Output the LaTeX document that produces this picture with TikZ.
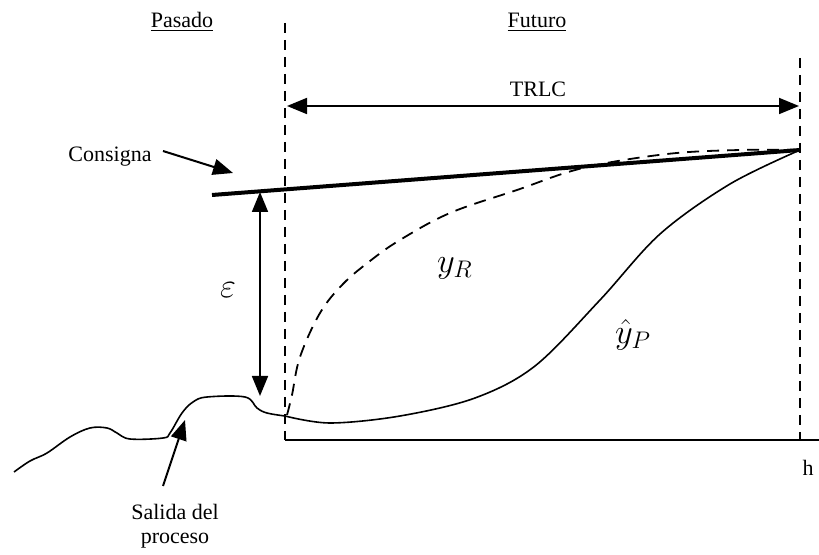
\documentclass[tikz,border=0pt]{standalone}
\usepackage{fontspec}
\setmainfont{Liberation Serif}
\usetikzlibrary{arrows.meta,positioning,calc}

\begin{document}
\begin{tikzpicture}[
    x=0.5pt, y=-0.5pt,
    >={Triangle[length=10pt,width=8pt]},
    font=\fontsize{11}{13}\selectfont,
    lbl/.style={inner sep=1pt},
    mlbl/.style={inner sep=1pt, font=\fontsize{17}{19}\selectfont},
    limit/.style={dash pattern=on 5pt off 3.5pt, line width=0.8pt},
    refcurve/.style={dash pattern=on 6pt off 4pt, line width=0.9pt},
    outcurve/.style={line width=0.8pt},
  ]

\useasboundingbox (0,0) rectangle (819,555);

% present / horizon limits
\coordinate (now top) at (285,23);
\coordinate (now) at (285,440);
\coordinate (hor top) at (800,58);
\coordinate (hor) at (800,440);
\coordinate (axis end) at (819,440);
\draw[limit] (now top) -- (now);
\draw[limit] (hor top) -- (hor);
\draw[line width=0.9pt] (now) -- (axis end);
\node[lbl] (h) at (808,468) {h};

% headings
\node[lbl] (past) at (182,22) {\underline{Pasado}};
\node[lbl] (fut) at (537,22) {\underline{Futuro}};

% horizon span
\coordinate (tr0) at (287,106);
\coordinate (tr1) at (799,106);
\draw[<->, line width=0.9pt] (tr0) -- (tr1);
\node[lbl] (trlc) at (538,89) {TRLC};

% set-point
\coordinate (c0) at (212,195);
\coordinate (c1) at (800,150);
\draw[line width=2pt] (c0) -- (c1);
\node[lbl] (cons) at (110,157) {Consigna};
\coordinate (cons tail) at (163,151);
\coordinate (cons tip) at (233,173);
\draw[->, line width=1pt] (cons tail) -- (cons tip);

% error
\coordinate (e1) at (260,192);
\coordinate (e2) at (260,396);
\draw[<->, line width=0.9pt] (e1) -- (e2);
\node[mlbl] (eps) at (228,290) {$\varepsilon$};

% process output (past)
\draw[outcurve] plot[smooth, tension=0.6] coordinates {
  (14,472) (30,461) (47,453) (70,437) (90,428) (107,428) (117,433)
  (130,439) (163,438) (170,433) (182,413) (193,402) (207,397)
  (245,397) (257,408) (267,413) (285,416)};
\node[lbl, align=center] (sal) at (175,526) {Salida del\\[-1pt]proceso};
\coordinate (sal tail) at (163,486);
\coordinate (sal tip) at (185,420);
\draw[->, line width=1pt] (sal tail) -- (sal tip);

% reference trajectory
\draw[refcurve] plot[smooth, tension=0.6] coordinates {
  (287,415) (292,395) (300,357) (320,313) (343,284) (370,261)
  (400,240) (450,213) (517,190) (583,168) (667,154) (740,150) (800,150)};
\node[mlbl] (yr) at (455,268) {$y_R$};

% predicted output
\draw[outcurve] plot[smooth, tension=0.55] coordinates {
  (285,416) (330,423) (400,416) (475,398) (535,366)
  (600,300) (660,234) (730,184) (800,150)};
\node[mlbl] (yp) at (633,335) {$\hat{y}_P$};

\end{tikzpicture}
\end{document}
